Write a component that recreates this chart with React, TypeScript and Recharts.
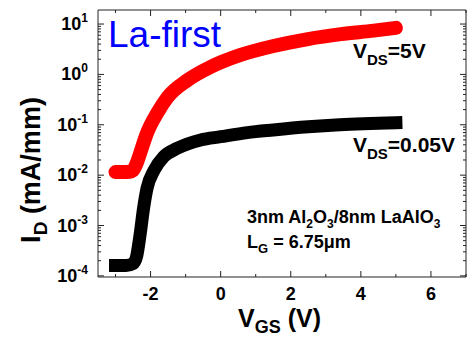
import React from 'react';
import { LineChart, Line, XAxis, YAxis } from 'recharts';

// V_DS = 5 V (red)
const vgsHigh = [-3.0, -2.8, -2.6, -2.5, -2.4, -2.3, -2.1, -1.81, -1.51, -0.94, -0.29, 0.57, 1.51, 2.49, 3.43, 4.37, 5.0];
const idHigh = [0.0115, 0.0115, 0.0117, 0.0125, 0.017, 0.027, 0.069, 0.171, 0.356, 0.774, 1.4, 2.43, 3.66, 5.04, 6.3, 7.4, 8.4];

// V_DS = 0.05 V (black)
const vgsLow = [-3.0, -2.7, -2.5, -2.4, -2.3, -2.2, -2.1, -1.9, -1.63, -1.24, -0.57, 0.0, 0.76, 1.5, 2.5, 3.4, 5.0];
const idLow = [1.6e-4, 1.6e-4, 1.75e-4, 2.4e-4, 6.5e-4, 2.2e-3, 5.5e-3, 0.0125, 0.023, 0.034, 0.05, 0.058, 0.07, 0.079, 0.091, 0.1, 0.11];

const xTicks = [-3, -2, -1, 0, 1, 2, 3, 4, 5, 6, 7];
const xMajorTicks = [-2, 0, 2, 4, 6];
const yTicks = [
  1e-4, 2e-4, 3e-4, 4e-4, 5e-4, 6e-4, 7e-4, 8e-4, 9e-4,
  1e-3, 2e-3, 3e-3, 4e-3, 5e-3, 6e-3, 7e-3, 8e-3, 9e-3,
  1e-2, 2e-2, 3e-2, 4e-2, 5e-2, 6e-2, 7e-2, 8e-2, 9e-2,
  0.1, 0.2, 0.3, 0.4, 0.5, 0.6, 0.7, 0.8, 0.9,
  1, 2, 3, 4, 5, 6, 7, 8, 9, 10,
];
const xDomain = [-3.5, 7];
const yDomain = [9.5e-5, 19];

const highData = vgsHigh.map((x, i) => ({ x, y: idHigh[i] }));
const lowData = vgsLow.map((x, i) => ({ x, y: idLow[i] }));

const FONT = '"Liberation Sans", Arial, sans-serif';
const AX = '#222';

const isMajorLog = (v: number) => {
  const e = Math.log10(v);
  return Math.abs(e - Math.round(e)) < 1e-6;
};

const BottomTick = (props: any) => {
  const { x, y, payload } = props;
  const major = xMajorTicks.includes(payload.value);
  return (
    <g>
      <line x1={x} x2={x} y1={y} y2={y - (major ? 6 : 3)} stroke={AX} strokeWidth={1} />
      {major && (
        <text x={x} y={y + 23} textAnchor="middle" fontFamily={FONT} fontWeight="bold" fontSize={18} fill="#000">
          {payload.value}
        </text>
      )}
    </g>
  );
};

const TopTick = (props: any) => {
  const { x, y, payload } = props;
  const major = xMajorTicks.includes(payload.value);
  return <line x1={x} x2={x} y1={y} y2={y + (major ? 6 : 3)} stroke={AX} strokeWidth={1} />;
};

const LeftTick = (props: any) => {
  const { x, y, payload } = props;
  const v = payload.value;
  const major = isMajorLog(v);
  const e = Math.round(Math.log10(v));
  return (
    <g>
      <line x1={x} x2={x + (major ? 6 : 3)} y1={y} y2={y} stroke={AX} strokeWidth={1} />
      {major && (
        <text x={x - 10} y={y + 6} textAnchor="end" fontFamily={FONT} fontWeight="bold" fontSize={18} fill="#000">
          <tspan>10</tspan>
          <tspan dy={-8} fontSize={12}>{e}</tspan>
        </text>
      )}
    </g>
  );
};

const RightTick = (props: any) => {
  const { x, y, payload } = props;
  const major = isMajorLog(payload.value);
  return <line x1={x} x2={x - (major ? 6 : 3)} y1={y} y2={y} stroke={AX} strokeWidth={1} />;
};

export default function App() {
  return (
    <div style={{ position: 'absolute', left: 0, top: 0, width: 471, height: 337, background: '#fff' }}>
      <LineChart width={471} height={337} margin={{ top: 9, right: 4, bottom: 20, left: 8 }}>
        <XAxis
          xAxisId={0}
          type="number"
          dataKey="x"
          domain={xDomain}
          allowDataOverflow
          ticks={xTicks}
          interval={0}
          tick={BottomTick}
          tickLine={false}
          tickSize={0}
          tickMargin={0}
          height={40}
          axisLine={{ stroke: AX, strokeWidth: 1 }}
        />
        <XAxis
          xAxisId="top"
          orientation="top"
          type="number"
          dataKey="x"
          domain={xDomain}
          allowDataOverflow
          ticks={xTicks}
          interval={0}
          tick={TopTick}
          tickLine={false}
          tickSize={0}
          tickMargin={0}
          height={1}
          axisLine={{ stroke: AX, strokeWidth: 1 }}
        />
        <YAxis
          yAxisId={0}
          type="number"
          scale="log"
          domain={yDomain}
          allowDataOverflow
          ticks={yTicks}
          interval={0}
          tick={LeftTick}
          tickLine={false}
          tickSize={0}
          tickMargin={0}
          width={90}
          axisLine={{ stroke: AX, strokeWidth: 1 }}
        />
        <YAxis
          yAxisId="right"
          orientation="right"
          type="number"
          scale="log"
          domain={yDomain}
          allowDataOverflow
          ticks={yTicks}
          interval={0}
          tick={RightTick}
          tickLine={false}
          tickSize={0}
          tickMargin={0}
          width={1}
          axisLine={{ stroke: AX, strokeWidth: 1 }}
        />
        <Line
          data={lowData}
          dataKey="y"
          type="monotone"
          stroke="#000"
          strokeWidth={13}
          strokeLinecap="square"
          strokeLinejoin="miter"
          dot={false}
          activeDot={false}
          isAnimationActive={false}
        />
        <Line
          data={highData}
          dataKey="y"
          type="monotone"
          stroke="#ff0000"
          strokeWidth={14}
          strokeLinecap="round"
          strokeLinejoin="round"
          dot={false}
          activeDot={false}
          isAnimationActive={false}
        />
      </LineChart>
      <svg
        width={471}
        height={337}
        style={{ position: 'absolute', left: 0, top: 0, pointerEvents: 'none' }}
        fontFamily={FONT}
      >
        <text x={108} y={47} fontSize={37} fill="#0000ff">La-first</text>
        <text x={353} y={58} fontSize={21} fontWeight="bold" fill="#000">
          <tspan>V</tspan>
          <tspan dy={7} fontSize={15}>DS</tspan>
          <tspan dy={-7}>=5V</tspan>
        </text>
        <text x={353} y={152} fontSize={21} fontWeight="bold" fill="#000">
          <tspan>V</tspan>
          <tspan dy={7} fontSize={15}>DS</tspan>
          <tspan dy={-7}>=0.05V</tspan>
        </text>
        <text x={247} y={223} fontSize={18} fontWeight="bold" fill="#000">
          <tspan>3nm Al</tspan>
          <tspan dy={5} fontSize={12}>2</tspan>
          <tspan dy={-5}>O</tspan>
          <tspan dy={5} fontSize={12}>3</tspan>
          <tspan dy={-5}>/8nm LaAlO</tspan>
          <tspan dy={5} fontSize={12}>3</tspan>
        </text>
        <text x={247} y={248} fontSize={18} fontWeight="bold" fill="#000">
          <tspan>L</tspan>
          <tspan dy={5} fontSize={13}>G</tspan>
          <tspan dy={-5}> = 6.75μm</tspan>
        </text>
        <text x={238} y={327} fontSize={25} fontWeight="bold" fill="#000">
          <tspan>V</tspan>
          <tspan dy={6} fontSize={18}>GS</tspan>
          <tspan dy={-6}> (V)</tspan>
        </text>
        <text transform="translate(40,170) rotate(-90)" textAnchor="middle" fontSize={27} fontWeight="bold" fill="#000">
          <tspan>I</tspan>
          <tspan dy={7} fontSize={19}>D</tspan>
          <tspan dy={-7}> (mA/mm)</tspan>
        </text>
      </svg>
    </div>
  );
}
